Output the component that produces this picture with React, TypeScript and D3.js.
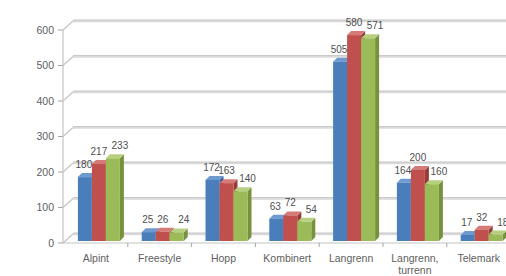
import React from "react";
import * as d3 from "d3";

const categories = ["Alpint", "Freestyle", "Hopp", "Kombinert", "Langrenn", "Langrenn,\nturrenn", "Telemark"];
const series1 = [180, 25, 172, 63, 505, 164, 17];
const series2 = [217, 26, 163, 72, 580, 200, 32];
const series3 = [233, 24, 140, 54, 571, 160, 18];
const yTicks = [0, 100, 200, 300, 400, 500, 600];

const W = 506, H = 276;
const FONT = "'Liberation Sans', Arial, sans-serif";
const colors = [
  { front: "#4a7ebb", top: "#6f9ad0", side: "#2f5f99" },
  { front: "#c0504d", top: "#d67a77", side: "#943c3a" },
  { front: "#9bbb59", top: "#b7d07f", side: "#76923c" },
];
const labelDx = [-1, 0, 7];

export default function App() {
  const seriesAll = [series1, series2, series3];
  const yFront = d3.scaleLinear().domain([0, 600]).range([243, 30]);
  const axisX = 63;
  const wallDx = 10, wallDy = 9;
  const x = d3.scaleBand().domain(categories).range([64, 64 + 7 * 63.8]);
  const groupW = 42;
  const inner = d3.scaleBand().domain(["0", "1", "2"]).range([0, groupW]);
  const d = 4;
  const barBase = yFront(0) - 2;

  return (
    <svg width={W} height={H} style={{ position: "fixed", left: 0, top: 0, background: "#fff" }} fontFamily={FONT}>
      <rect width={W} height={H} fill="#fff" />
      {yTicks.map((t) => {
        const y = yFront(t);
        return (
          <g key={"g" + t}>
            <line x1={axisX} y1={y} x2={axisX + wallDx} y2={y - wallDy} stroke="#c4c4c4" strokeWidth={1.2} />
            <line x1={axisX + wallDx} y1={y - wallDy} x2={W} y2={y - wallDy} stroke="#dadada" strokeWidth={2.4} />
            <line x1={axisX + wallDx} y1={y - wallDy - 1} x2={W} y2={y - wallDy - 1} stroke="#c4c4c4" strokeWidth={0.8} />
            <line x1={axisX - 5} y1={y} x2={axisX} y2={y} stroke="#a6a6a6" strokeWidth={1} />
            <text x={54} y={y} dy="0.35em" textAnchor="end" fontSize={10.5} fill="#606060">{t}</text>
          </g>
        );
      })}
      <line x1={axisX} y1={yFront(600)} x2={axisX} y2={yFront(0)} stroke="#c4c4c4" strokeWidth={1.2} />
      <line x1={axisX} y1={yFront(0)} x2={W} y2={yFront(0)} stroke="#c4c4c4" strokeWidth={1.2} />
      {categories.map((c, i) => {
        const bx = (x(c) as number);
        return i === 0 ? null : (
          <line key={"tk" + c} x1={bx} y1={yFront(0)} x2={bx} y2={yFront(0) + 4} stroke="#a6a6a6" strokeWidth={1} />
        );
      })}
      {categories.map((c, ci) => {
        const gx = (x(c) as number) + (x.bandwidth() - groupW) / 2 + 3;
        return (
          <g key={"b" + c}>
            {seriesAll.map((s, si) => {
              const bx = gx + (inner(String(si)) as number);
              const w = inner.bandwidth();
              const top = yFront(s[ci]) - 2;
              const col = colors[si];
              return (
                <g key={si}>
                  <polygon
                    points={`${bx + w},${top} ${bx + w + d},${top - d} ${bx + w + d},${barBase - d} ${bx + w},${barBase}`}
                    fill={col.side}
                  />
                  <polygon
                    points={`${bx},${top} ${bx + d},${top - d} ${bx + w + d},${top - d} ${bx + w},${top}`}
                    fill={col.top}
                  />
                  <rect x={bx} y={top} width={w} height={barBase - top} fill={col.front} />
                </g>
              );
            })}
            {seriesAll.map((s, si) => {
              const bx = gx + (inner(String(si)) as number);
              const w = inner.bandwidth();
              const top = yFront(s[ci]) - 2;
              return (
                <text key={"l" + si} x={bx + w / 2 + labelDx[si]} y={top - 9} textAnchor="middle" fontSize={10} fill="#505050">
                  {s[ci]}
                </text>
              );
            })}
          </g>
        );
      })}
      {categories.map((c) => {
        const cx = (x(c) as number) + x.bandwidth() / 2;
        const lines = c.split("\n");
        return (
          <text key={"c" + c} x={cx} y={262} textAnchor="middle" fontSize={10.5} fill="#606060">
            {lines.map((ln, li) => (
              <tspan key={li} x={cx} dy={li === 0 ? 0 : 12}>{ln}</tspan>
            ))}
          </text>
        );
      })}
    </svg>
  );
}
